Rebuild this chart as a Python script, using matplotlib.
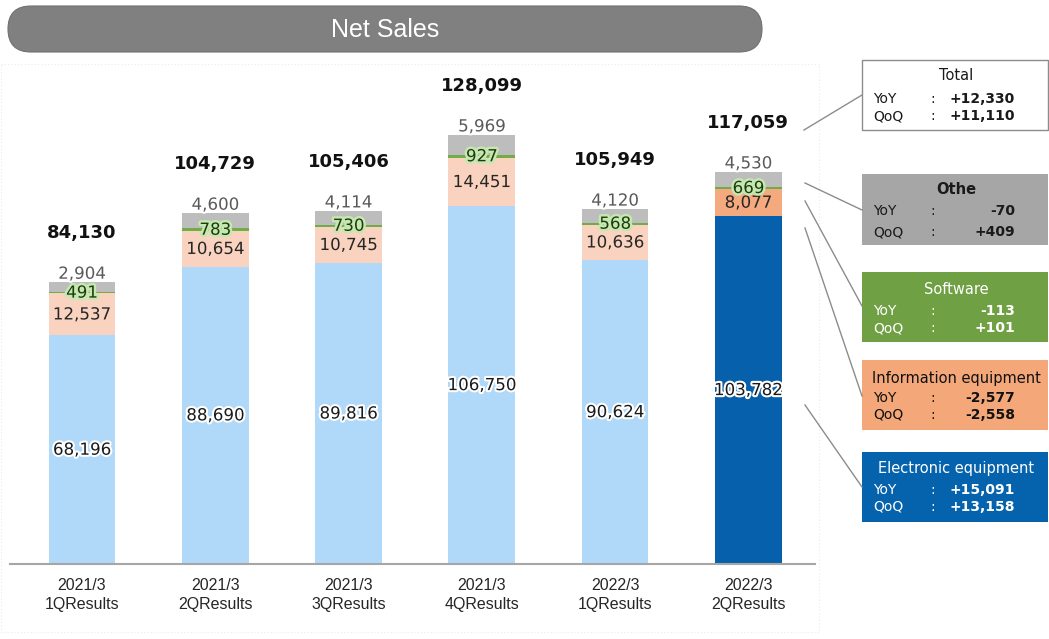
import matplotlib
matplotlib.use("Agg")
import matplotlib.pyplot as plt
import matplotlib.patheffects as pe
from matplotlib.patches import Rectangle, FancyBboxPatch
import numpy as np

categories = ["2021/3\n1QResults", "2021/3\n2QResults", "2021/3\n3QResults",
              "2021/3\n4QResults", "2022/3\n1QResults", "2022/3\n2QResults"]
electronic = [68196, 88690, 89816, 106750, 90624, 103782]
information = [12537, 10654, 10745, 14451, 10636, 8077]
software = [491, 783, 730, 927, 568, 669]
other = [2904, 4600, 4114, 5969, 4120, 4530]
totals = [84130, 104729, 105406, 128099, 105949, 117059]

box_titles = ["Total", "Othe", "Software", "Information equipment", "Electronic equipment"]
box_yoy = ["+12,330", "-70", "-113", "-2,577", "+15,091"]
box_qoq = ["+11,110", "+409", "+101", "-2,558", "+13,158"]

W, H = 1049, 639
fig = plt.figure(figsize=(W / 100, H / 100), dpi=100)
fig.patch.set_facecolor("white")

# main chart axes (pixel placement)
ax_l, ax_r, ax_t, ax_b = 10, 815, 64, 564
ax = fig.add_axes([ax_l / W, 1 - ax_b / H, (ax_r - ax_l) / W, (ax_b - ax_t) / H])
ax.set_xlim(-0.54, 5.5)
ax.set_ylim(0, 149200)
for s in ["top", "right", "left"]:
    ax.spines[s].set_visible(False)
ax.spines["bottom"].set_color("#A6A6A6")
ax.spines["bottom"].set_linewidth(1.5)
ax.set_yticks([])
x = np.arange(len(categories))
ax.set_xticks(x)
ax.set_xticklabels(categories, fontsize=11.5, family=["Liberation Sans", "DejaVu Sans"],
                   color="#262626", linespacing=1.35)
ax.tick_params(axis="x", length=0, pad=10)

n = len(categories)
c_elec = ["#AFD8F9"] * (n - 1) + ["#0760AC"]
c_info = ["#F9D3BF"] * (n - 1) + ["#F4A97E"]
c_soft = ["#70AD47"] * n
c_oth = ["#BDBDBD"] * n
bw = 0.5

elec = np.array(electronic, float)
info = np.array(information, float)
soft = np.array(software, float)
oth = np.array(other, float)

ax.bar(x, elec, bw, color=c_elec, linewidth=0)
ax.bar(x, info, bw, bottom=elec, color=c_info, linewidth=0)
ax.bar(x, soft, bw, bottom=elec + info, color=c_soft, linewidth=0)
ax.bar(x, oth, bw, bottom=elec + info + soft, color=c_oth, linewidth=0)

num_font = "DejaVu Sans"
for i in range(n):
    ax.text(x[i], elec[i] / 2, f"{electronic[i]:,}", ha="center", va="center",
            fontsize=12, color="#1A1A1A", family=num_font,
            path_effects=[pe.withStroke(linewidth=3, foreground="white")])
    ax.text(x[i], elec[i] + info[i] / 2, f"{information[i]:,}", ha="center", va="center",
            fontsize=12, color="#262626", family=num_font,
            path_effects=[pe.withStroke(linewidth=3, foreground=c_info[i])])
    ax.text(x[i], elec[i] + info[i] + soft[i] / 2, f"{software[i]:,}", ha="center", va="center",
            fontsize=12, color="#1E3A10", family=num_font,
            path_effects=[pe.withStroke(linewidth=3.5, foreground="#C5E8B0")])
    top = elec[i] + info[i] + soft[i] + oth[i]
    ax.annotate(f"{other[i]:,}", (x[i], top), xytext=(0, 6), textcoords="offset points",
                ha="center", va="center", fontsize=12, color="#595959", family=num_font,
                path_effects=[pe.withStroke(linewidth=3, foreground="white")])
    ax.annotate(f"{totals[i]:,}", (x[i], top), xytext=(0, 35), textcoords="offset points",
                ha="center", va="center", fontsize=13, fontweight="bold", color="#111111",
                family=num_font)

# overlay in pixel coordinates
ov = fig.add_axes([0, 0, 1, 1], zorder=5)
ov.set_xlim(0, W)
ov.set_ylim(H, 0)
ov.axis("off")
ov.patch.set_alpha(0)

# faint dotted chart frame
ov.add_patch(Rectangle((1, 64), 818, 568, fill=False, edgecolor="#EBEBEB", linestyle=(0, (1, 2)), linewidth=0.8))

# title pill
ov.add_patch(FancyBboxPatch((8, 6), 754, 46, boxstyle="round,pad=0,rounding_size=23",
                            facecolor="#808080", edgecolor="#707070", linewidth=0.8))
ov.text(385, 30, "Net Sales", ha="center", va="center", fontsize=18, color="white",
        family=["Liberation Sans", "DejaVu Sans"])

# right-hand boxes
boxes = [
    dict(y=60, h=70, fc="white", ec="#8C8C8C", tc="#1A1A1A", bold_title=False, title_y=76, r1=99, r2=116),
    dict(y=174, h=71, fc="#A6A6A6", ec="none", tc="#1A1A1A", bold_title=True, title_y=189, r1=211, r2=232),
    dict(y=272, h=70, fc="#70A044", ec="none", tc="white", bold_title=False, title_y=290, r1=311, r2=328),
    dict(y=360, h=70, fc="#F4A778", ec="none", tc="#111111", bold_title=False, title_y=378, r1=398, r2=415),
    dict(y=452, h=70, fc="#0563AE", ec="none", tc="white", bold_title=False, title_y=468, r1=490, r2=507),
]
bx, bwid = 862, 186
for b, t, yy, qq in zip(boxes, box_titles, box_yoy, box_qoq):
    ov.add_patch(Rectangle((bx, b["y"]), bwid, b["h"], facecolor=b["fc"], edgecolor=b["ec"], linewidth=1))
    ov.text(bx + bwid / 2 + 1, b["title_y"], t, ha="center", va="center", fontsize=10.5,
            color=b["tc"], fontweight="bold" if b["bold_title"] else "normal", family="DejaVu Sans")
    for ry, lab, val in [(b["r1"], "YoY", yy), (b["r2"], "QoQ", qq)]:
        ov.text(873, ry, lab, ha="left", va="center", fontsize=10, color=b["tc"], family="DejaVu Sans")
        ov.text(930, ry, ":", ha="left", va="center", fontsize=10, color=b["tc"], family="DejaVu Sans")
        ov.text(1015, ry, val, ha="right", va="center", fontsize=10, fontweight="bold",
                color=b["tc"], family="DejaVu Sans")

# leader lines
lines = [((804, 130), (862, 95)), ((805, 183), (862, 210)), ((805, 201), (862, 306)),
         ((805, 228), (862, 396)), ((805, 405), (862, 487))]
for (x0, y0), (x1, y1) in lines:
    ov.plot([x0, x1], [y0, y1], color="#8C8C8C", linewidth=1)

fig.savefig("out.png", dpi=100)
